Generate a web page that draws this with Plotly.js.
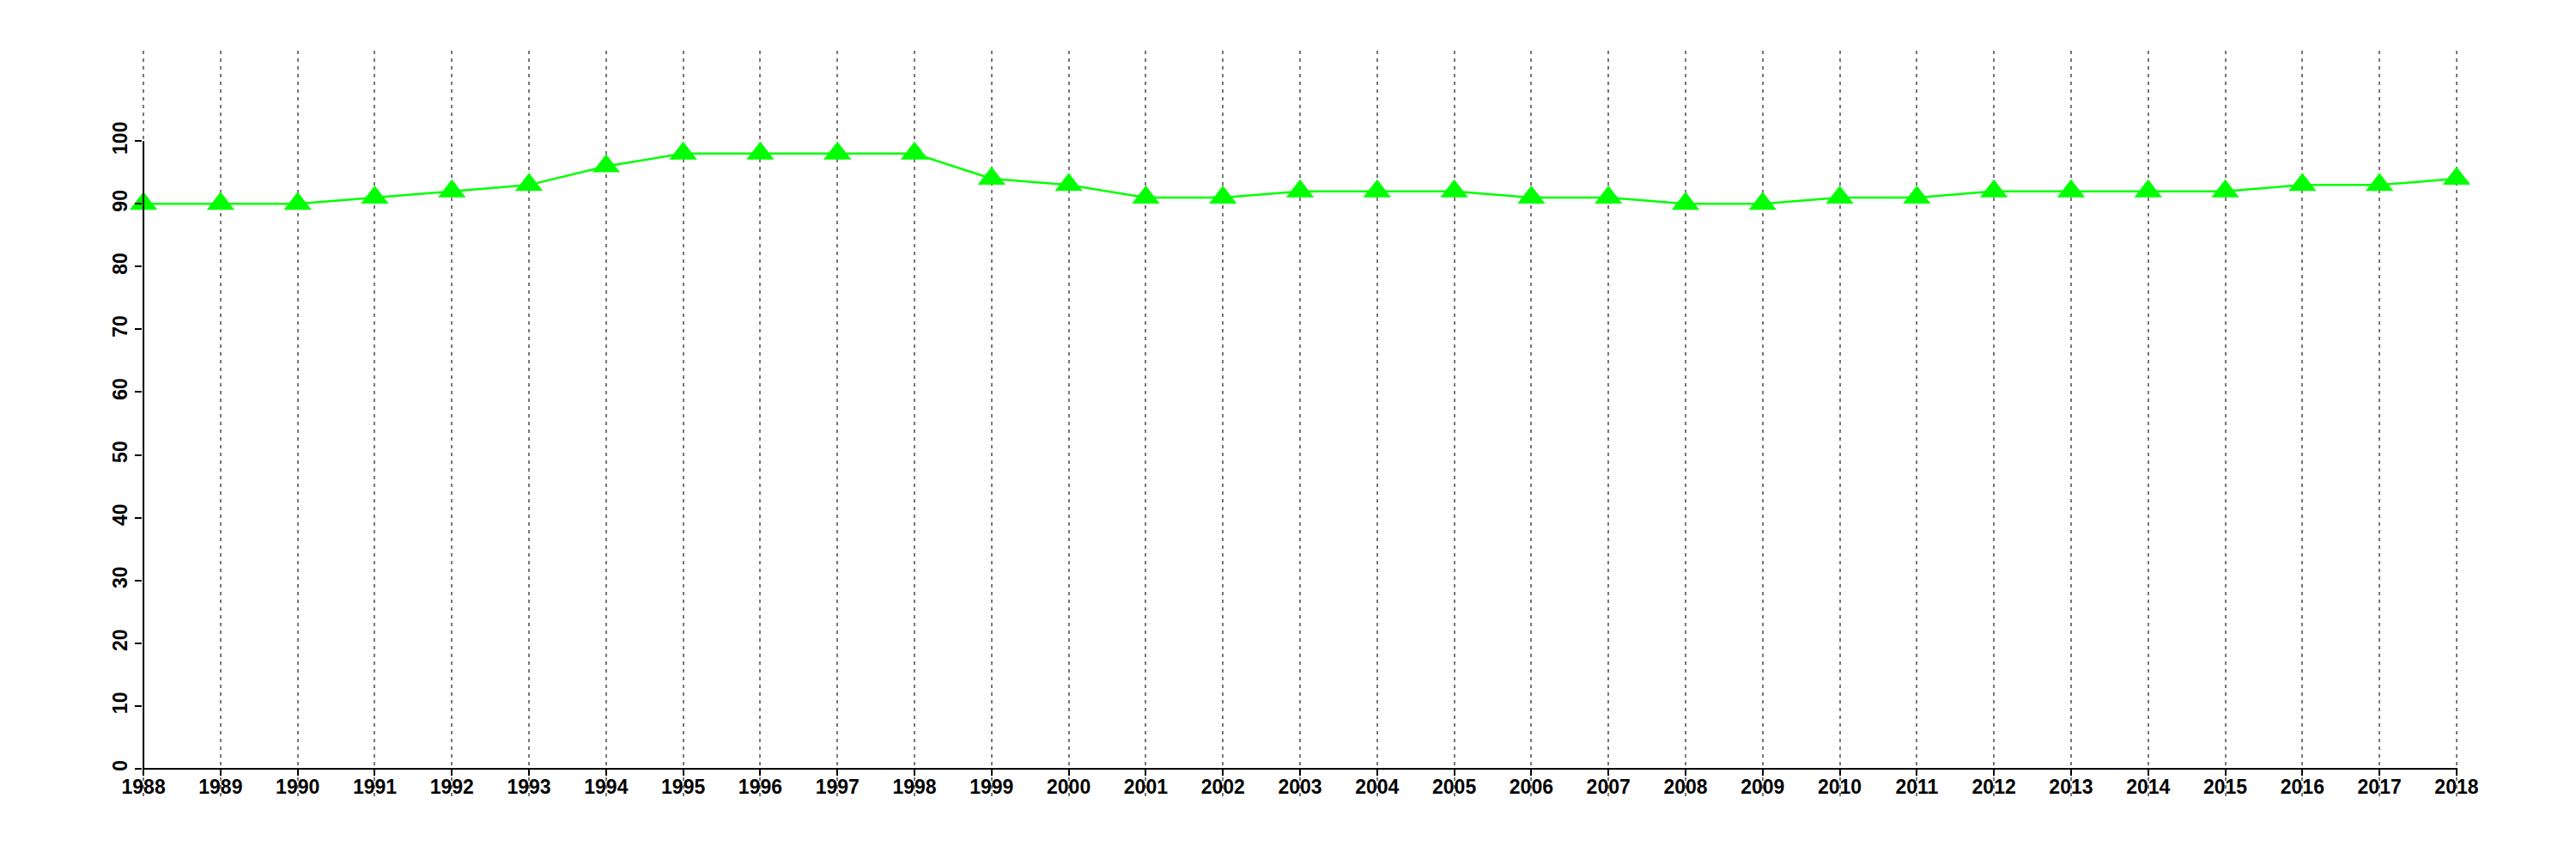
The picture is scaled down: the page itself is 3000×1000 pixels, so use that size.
<!DOCTYPE html>
<html>
<head>
<meta charset="utf-8">
<script src="https://cdn.plot.ly/plotly-3.0.1.min.js"></script>
<style>html,body{margin:0;padding:0;background:#fff;}#chart{width:3000px;height:1000px;}</style>
</head>
<body>
<div id="chart"></div>
<script>
var years = [1988,1989,1990,1991,1992,1993,1994,1995,1996,1997,1998,1999,2000,2001,2002,2003,2004,2005,2006,2007,2008,2009,2010,2011,2012,2013,2014,2015,2016,2017,2018];
var values = [90,90,90,91,92,93,96,98,98,98,98,94,93,91,91,92,92,92,91,91,90,90,91,91,92,92,92,92,93,93,94];
var yTicks = [0,10,20,30,40,50,60,70,80,90,100];
var yTickLabels = ["0","10","20","30","40","50","60","70","80","90","100"];

var yMin = -4.4, yMax = 114.4;
var tickFont = {family: "Liberation Sans, Arial, sans-serif", size: 23, color: "#000", weight: "bold"};

var trace = {
  x: years, y: values, type: "scatter", mode: "lines+markers",
  line: {color: "#00ff00", width: 2.5},
  marker: {symbol: "triangle-up", size: 28, color: "#00ff00"},
  cliponaxis: false, hoverinfo: "skip"
};

var layout = {
  width: 3000, height: 1000,
  margin: {l: 166, r: 138, t: 59, b: 73},
  paper_bgcolor: "#fff", plot_bgcolor: "#fff",
  showlegend: false,
  xaxis: {
    range: [years[0] - 0.012, years[years.length-1] + 0.012],
    tickvals: years, ticktext: years.map(String),
    anchor: "free", position: (0 - yMin) / (yMax - yMin),
    showline: true, linecolor: "#000", linewidth: 2,
    ticks: "outside", ticklen: 7, tickwidth: 2, tickcolor: "#000",
    showgrid: true, gridcolor: "#777777", gridwidth: 2, griddash: "4px,5px",
    zeroline: false, tickfont: tickFont, ticklabelstandoff: -6
  },
  yaxis: {
    range: [yMin, yMax],
    tickvals: yTicks, ticktext: yTickLabels, tickangle: -90,
    showline: false, showgrid: false, zeroline: false,
    ticks: "outside", ticklen: 8, tickwidth: 2, tickcolor: "#000",
    tickfont: tickFont
  },
  shapes: [{
    type: "line", xref: "x", yref: "y",
    x0: years[0], x1: years[0], y0: yTicks[0], y1: yTicks[yTicks.length-1],
    line: {color: "#000", width: 2}
  }]
};

Plotly.newPlot("chart", [trace], layout, {displayModeBar: false, staticPlot: true});
</script>
</body>
</html>
